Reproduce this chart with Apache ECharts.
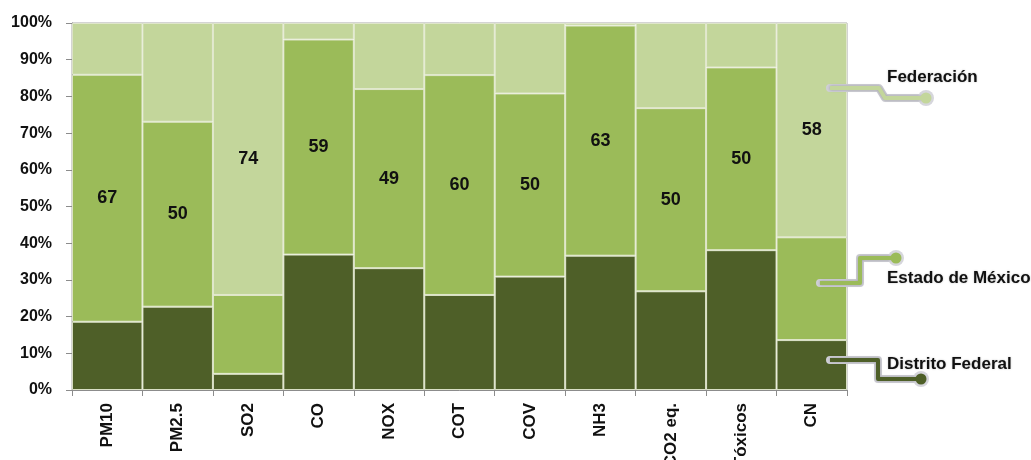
<!DOCTYPE html>
<html>
<head>
<meta charset="utf-8">
<script src="https://cdn.jsdelivr.net/npm/echarts@6/dist/echarts.min.js"></script>
<style>html,body{margin:0;padding:0;background:#fff;}#c{width:1031px;height:460px;}</style>
</head>
<body>
<div id="c"></div>
<script>
const categories = ['PM10','PM2.5','SO2','CO','NOX','COT','COV','NH3','CO2 eq.','Tóxicos','CN'];
const distritoFederal = [18.6, 22.7, 4.4, 36.9, 33.2, 25.9, 30.9, 36.6, 26.9, 38.1, 13.6];
const estadoMexico    = [67.3, 50.4, 21.5, 58.6, 48.8, 59.9, 49.9, 62.7, 49.9, 49.8, 28.0];
const federacion      = [14.1, 26.9, 74.1, 4.5, 18.0, 14.2, 19.2, 0.7, 23.2, 12.1, 58.4];
const yTicks = [0,10,20,30,40,50,60,70,80,90,100];
const seriesNames = ['Distrito Federal','Estado de México','Federación'];
const seriesData = [distritoFederal, estadoMexico, federacion];
const colors = ['#4E5F28','#9BBB59','#C3D69B'];

const chart = echarts.init(document.getElementById('c'));
const font = '"Liberation Sans", Arial, sans-serif';

function labelFmt(p){
  const i = p.dataIndex;
  const vals = seriesData.map(a => a[i]);
  const mx = Math.max.apply(null, vals);
  return p.value === mx ? String(Math.round(p.value)) : '';
}

const series = seriesNames.map((n, k) => ({
  name: n,
  type: 'bar',
  stack: 'total',
  barCategoryGap: 0,
  data: seriesData[k],
  itemStyle: { color: colors[k], borderColor: 'rgba(225,232,205,0.9)', borderWidth: 1 },
  label: { show: true, position: 'inside', formatter: labelFmt, color: '#111',
           fontFamily: font, fontWeight: 'bold', fontSize: 18 },
  emphasis: { disabled: true }
}));

function callout(pts, color, dot){
  return [
    { type: 'polyline', shape: { points: pts }, style: { stroke: '#cfcfd6', lineWidth: 8, fill: null, lineJoin: 'round', lineCap: 'round' }, z: 10 },
    { type: 'polyline', shape: { points: pts }, style: { stroke: color, lineWidth: 4, fill: null, lineJoin: 'round', shadowBlur: 3, shadowColor: 'rgba(0,0,0,0.25)' }, z: 11 },
    { type: 'circle', shape: { cx: dot[0], cy: dot[1], r: 8 }, style: { fill: '#d6d6dc' }, z: 10 },
    { type: 'circle', shape: { cx: dot[0], cy: dot[1], r: 5.5 }, style: { fill: color }, z: 11 }
  ];
}
function ltext(x, y, t){
  return { type: 'text', x: x, y: y, z: 12,
    style: { text: t, font: 'bold 17px ' + font, fill: '#111', textVerticalAlign: 'middle', verticalAlign: 'middle',
             textShadowColor: 'rgba(0,0,0,0.25)', textShadowBlur: 2 } };
}

const graphic = [].concat(
  callout([[830,88],[879,88],[885,98],[926,98]], colors[2], [926,98]),
  callout([[820,283],[860,283],[860,258],[896,258]], colors[1], [896,258]),
  callout([[830,360],[878,360],[878,379],[921,379]], colors[0], [921,379]),
  [ltext(887,77,'Federación'), ltext(887,278,'Estado de México'), ltext(887,364,'Distrito Federal')]
);

chart.setOption({
  animation: false,
  backgroundColor: '#fff',
  grid: { left: 72, right: 184, top: 23, bottom: 70, containLabel: false, outerBoundsMode: 'none',
          show: true, borderColor: '#a8a8a8', borderWidth: 1, backgroundColor: 'transparent' },
  xAxis: {
    type: 'category', data: categories,
    axisLine: { lineStyle: { color: '#8c8c8c' } },
    axisTick: { show: true, length: 6, lineStyle: { color: '#8c8c8c' } },
    axisLabel: { rotate: 90, margin: 13, color: '#111', fontFamily: font, fontWeight: 'bold', fontSize: 17, interval: 0 }
  },
  yAxis: {
    type: 'value', min: 0, max: 100, interval: 10,
    axisLine: { show: true, lineStyle: { color: '#8c8c8c' } },
    axisTick: { show: true, length: 6, lineStyle: { color: '#8c8c8c' } },
    splitLine: { show: false },
    axisLabel: { formatter: v => yTicks.indexOf(v) >= 0 ? v + '%' : '', margin: 20, color: '#111',
                 fontFamily: font, fontWeight: 'bold', fontSize: 16 }
  },
  series: series,
  graphic: graphic
});
</script>
</body>
</html>
